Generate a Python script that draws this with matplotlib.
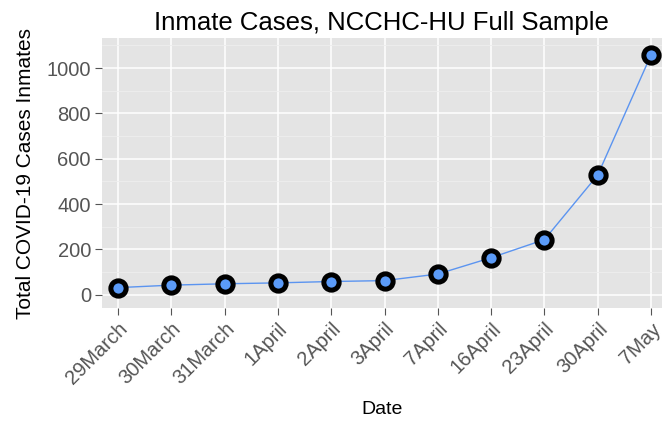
import matplotlib
matplotlib.use("Agg")
import matplotlib.pyplot as plt
from matplotlib.ticker import MultipleLocator

dates = ["29March", "30March", "31March", "1April", "2April", "3April",
         "7April", "16April", "23April", "30April", "7May"]
cases = [31, 42, 48, 52, 58, 62, 91, 163, 243, 528, 1058]

plt.rcParams['font.family'] = ['Liberation Sans', 'DejaVu Sans']

fig = plt.figure(figsize=(6.63, 4.24), dpi=100)
ax = fig.add_axes([0.154, 0.273, 0.844, 0.637])
ax.set_facecolor('#E4E4E4')
x = list(range(len(dates)))
ax.plot(x, cases, color='#5B94F0', lw=1.0, zorder=3)
ax.plot(x, cases, linestyle='none', marker='o', markersize=11,
        markerfacecolor='#5B9BF8', markeredgecolor='black', markeredgewidth=3.6, zorder=4)

ax.set_xlim(-0.3, 10.2)
ax.set_ylim(-60, 1132)
ax.set_xticks(x)
ax.set_xticklabels(dates, rotation=45, ha='right', rotation_mode='anchor')
ax.yaxis.set_major_locator(MultipleLocator(200))
ax.yaxis.set_minor_locator(MultipleLocator(100))
ax.grid(which='major', color='white', lw=1.1)
ax.grid(which='minor', axis='y', color='#EEEEEE', lw=0.6)
ax.set_axisbelow(True)
for s in ax.spines.values():
    s.set_visible(False)
ax.tick_params(axis='both', which='major', colors='#555555', labelsize=14.5, length=5, width=0.8, pad=3)
ax.tick_params(axis='y', which='minor', length=0)
ax.set_title('Inmate Cases, NCCHC-HU Full Sample', fontsize=18.5, pad=6)
ax.set_xlabel('Date', fontsize=14, labelpad=9)
ax.set_ylabel('Total COVID-19 Cases Inmates', fontsize=15, labelpad=8)

fig.savefig('out.png', dpi=100)
